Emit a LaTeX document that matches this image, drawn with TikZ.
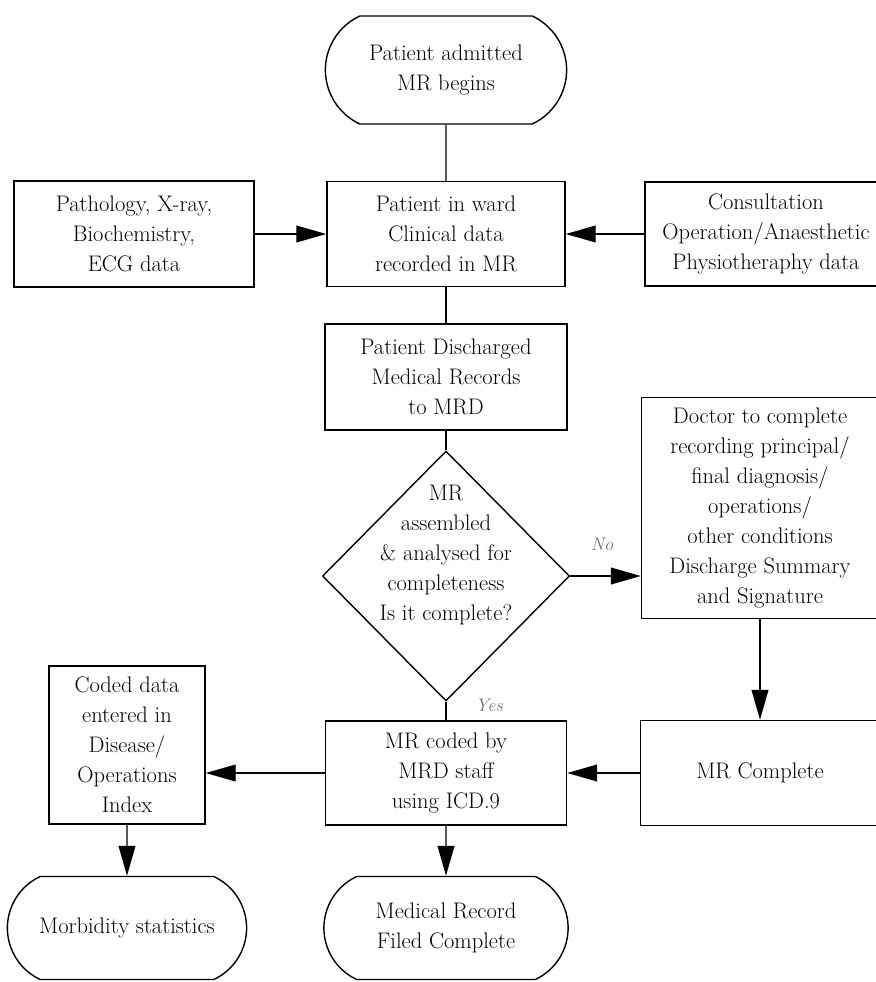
\documentclass[tikz,border=0pt]{standalone}
\usetikzlibrary{shapes.geometric, shapes.misc, arrows.meta}

\begin{document}
\begin{tikzpicture}[x=0.025cm, y=-0.025cm, line width=1pt,
    font=\fontsize{16}{21.3}\selectfont,
    box/.style={draw, rectangle, align=center, inner sep=1pt},
    term/.style={draw, rounded rectangle, rounded rectangle arc length=130,
      align=center, inner sep=1pt},
    decision/.style={draw, diamond, inner sep=0pt},
    arr/.style={-{Triangle[length=7.5mm, width=4.2mm]}},
    ans/.style={font=\fontsize{13}{15}\selectfont\itshape, text=black!55}]
  \useasboundingbox (0,0) rectangle (876,982);
  \clip (0,0) rectangle (876,982);

  % 主列
  \node[term, minimum width=6.1cm, minimum height=2.7cm] (start) at (446,70)
    {Patient admitted\\MR begins};
  \node[box, minimum width=5.95cm, minimum height=2.625cm] (ward) at (446,234)
    {Patient in ward\\Clinical data\\recorded in MR};
  \node[box, minimum width=6.05cm, minimum height=2.65cm] (disch) at (446,377)
    {Patient Discharged\\Medical Records\\to MRD};
  \node[decision, minimum width=6.175cm, minimum height=6.25cm] (check) at (446,576) {};
  \node[align=center] (checktext) at (446,555)
    {MR\\assembled\\\& analysed for\\completeness\\Is it complete?};
  \node[box, minimum width=6.025cm, minimum height=2.6cm] (coded) at (446,773)
    {MR coded by\\MRD staff\\using ICD.9};
  \node[term, minimum width=6.175cm, minimum height=2.575cm] (filed) at (446,928)
    {Medical Record\\Filed Complete};

  % 两侧
  \node[box, minimum width=6cm, minimum height=2.65cm] (lab) at (134,234)
    {Pathology, X-ray,\\Biochemistry,\\ECG data};
  \node[box, minimum width=6.05cm, minimum height=2.6cm] (consult) at (766,234)
    {Consultation\\Operation/Anaesthetic\\Physiotheraphy data};
  \node[box, minimum width=5.925cm, minimum height=5.525cm] (doctor) at (760,508)
    {Doctor to complete\\recording principal/\\final diagnosis/\\operations/\\other conditions\\Discharge Summary\\and Signature};
  \node[box, minimum width=5.975cm, minimum height=2.625cm] (complete) at (760,773)
    {MR Complete};
  \node[box, minimum width=3.9cm, minimum height=3.95cm] (index) at (127,745)
    {Coded data\\entered in\\Disease/\\Operations\\Index};
  \node[term, minimum width=6.05cm, minimum height=2.575cm] (morb) at (127,928)
    {Morbidity statistics};

  \draw (start) -- (ward);
  \draw (ward) -- (disch);
  \draw (disch) -- (check);
  \draw (check) -- node[ans, right=6mm, pos=0.2] {Yes} (coded);
  \draw[arr] (lab) -- (ward);
  \draw[arr] (consult) -- (ward);
  \draw[arr] (check.east) -- node[ans, above=5mm, pos=0.45] {No} (check.east -| doctor.west);
  \draw[arr] (doctor) -- (complete);
  \draw[arr] (complete) -- (coded);
  \draw[arr] (coded.west) -- (coded.west -| index.east);
  \draw[arr] (index) -- (morb);
  \draw[arr] (coded) -- (filed);
\end{tikzpicture}
\end{document}
